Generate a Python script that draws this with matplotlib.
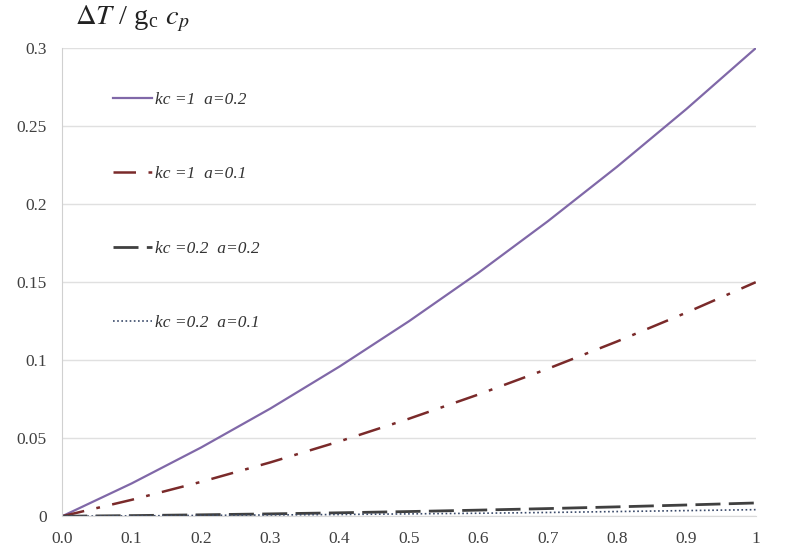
import numpy as np
import matplotlib.pyplot as plt

plt.rcParams.update({'font.family': 'Liberation Serif', 'mathtext.fontset': 'stix'})

# x values and curve readings
x = [0.0, 0.1, 0.2, 0.3, 0.4, 0.5, 0.6, 0.7, 0.8, 0.9, 1.0]
kc1_a02 = [0.0, 0.021, 0.044, 0.069, 0.096, 0.125, 0.156, 0.189, 0.224, 0.261, 0.300]
kc1_a01 = [0.0, 0.0105, 0.022, 0.0345, 0.048, 0.0625, 0.078, 0.0945, 0.112, 0.1305, 0.150]
kc02_a02 = [0.0, 0.0004, 0.0009, 0.0015, 0.0022, 0.0030, 0.0039, 0.0049, 0.0060, 0.0072, 0.0085]
kc02_a01 = [0.0, 0.0002, 0.0005, 0.0008, 0.0011, 0.0015, 0.0019, 0.0024, 0.0030, 0.0036, 0.0042]

xticks = [0.0, 0.1, 0.2, 0.3, 0.4, 0.5, 0.6, 0.7, 0.8, 0.9, 1.0]
xtick_labels = ['0.0', '0.1', '0.2', '0.3', '0.4', '0.5', '0.6', '0.7', '0.8', '0.9', '1']
yticks = [0, 0.05, 0.1, 0.15, 0.2, 0.25, 0.3]
ytick_labels = ['0', '0.05', '0.1', '0.15', '0.2', '0.25', '0.3']

fig = plt.figure(figsize=(7.88, 5.48), dpi=100)
ax = fig.add_axes([0.079, 0.058, 0.880, 0.854])

ax.plot(x, kc1_a02, '-', color='#8068a8', lw=1.6, label='kc =1  a=0.2')
ax.plot(x, kc1_a01, color='#7a2a2a', lw=1.8, dashes=(9, 5, 1.5, 5), label='kc =1  a=0.1')
ax.plot(x, kc02_a02, color='#404040', lw=2.0, dashes=(9, 3), label='kc =0.2  a=0.2')
ax.plot(x, kc02_a01, color='#3a4a6a', lw=1.2, dashes=(1, 1.5), label='kc =0.2  a=0.1')

ax.set_xlim(0, 1)
ax.set_ylim(0, 0.3)
ax.set_xticks(xticks)
ax.set_xticklabels(xtick_labels)
ax.set_yticks(yticks)
ax.set_yticklabels(ytick_labels)
ax.tick_params(length=0, labelsize=12.5, colors='#404040')
ax.tick_params(axis='y', pad=11)
ax.tick_params(axis='x', pad=11)
ax.yaxis.grid(True, color='#e0e0e0', lw=1)
ax.set_axisbelow(True)
for s in ['top', 'right']:
    ax.spines[s].set_visible(False)
ax.spines['left'].set_color('#d0d0d0')
ax.spines['bottom'].set_color('#d9d9d9')

ax.text(0.018, 1.03, r'$\Delta T$ / g$_{\mathregular{c}}$ $c_p$', transform=ax.transAxes,
        fontsize=20.5, color='#222222', va='bottom')

ax.legend(loc='upper left', bbox_to_anchor=(0.05, 0.94), frameon=False,
          prop={'family': 'Liberation Serif', 'style': 'italic', 'size': 12.5},
          labelspacing=3.35, handlelength=2.25, handletextpad=0.2, labelcolor='#333333')

plt.savefig('out.png', dpi=100)
